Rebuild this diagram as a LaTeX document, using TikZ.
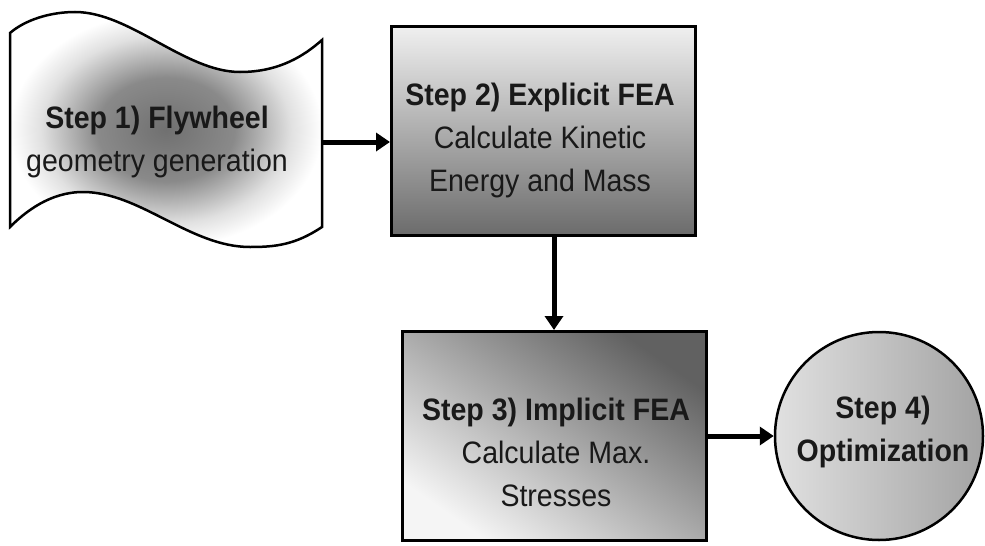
\documentclass[tikz,border=0pt]{standalone}
\usepackage{fontspec}
\setmainfont{Liberation Sans}[FakeStretch=0.92]
\usetikzlibrary{arrows.meta,shapes.geometric,calc}
\pgfdeclareradialshading{tapeshade}{\pgfpoint{0bp}{0bp}}{color(0bp)=(black!56); color(11bp)=(black!46); color(20bp)=(black!12); color(25bp)=(white); color(50bp)=(white)}
\begin{document}
\begin{tikzpicture}[x=1pt,y=-1pt,
  arr/.style={line width=5pt,-{Triangle[length=14pt,width=18pt]}},
  stepbox/.style={draw=black,line width=3pt,inner sep=0pt,minimum width=304pt,minimum height=209pt},
  txt/.style={align=center,inner sep=0pt,text=black!90,font=\fontsize{31}{43}\selectfont}]
\useasboundingbox[fill=white] (0,0) rectangle (985,546);
% Step 1 tape
\shadedraw[shading=tapeshade,draw=black,line width=2.5pt]
  (10,33) .. controls (25,20) and (50,12) .. (75,12)
  .. controls (130,12) and (185,72) .. (240,72)
  .. controls (280,72) and (305,55) .. (322,40)
  -- (322,227)
  .. controls (295,245) and (275,247) .. (250,247)
  .. controls (190,247) and (140,192) .. (83,192)
  .. controls (50,192) and (25,212) .. (10,227) -- cycle;
\node[txt] (s1) at (157,142) {\textbf{Step 1) Flywheel}\\geometry generation};
\coordinate (s1e) at (322,142);
% Step 2
\node[stepbox,top color=white!94!black,bottom color=black!58] (s2) at (543.5,131) {};
\node[txt] (t2) at (540,140) {\textbf{Step 2) Explicit FEA}\\Calculate Kinetic\\Energy and Mass};
% Step 3
\node[stepbox,top color=black!62,bottom color=white!96!black,shading angle=-35] (s3) at (554,436) {};
\node[txt] (t3) at (556,452) {\textbf{Step 3) Implicit FEA}\\Calculate Max.\\Stresses};
% Step 4
\node[circle,draw=black,line width=2.5pt,minimum size=208pt,inner sep=0pt,
  left color=black!12,middle color=white!97!black,right color=black!36] (s4) at (879,436) {};
\node[txt] (t4) at (883,432) {\textbf{Step 4)}\\\textbf{Optimization}};
% connectors
\draw[arr] (s1e) -- (s1e -| s2.west);
\draw[arr] (s2.south -| s3.north) -- (s3.north);
\draw[arr] (s3.east) -- (s4.west);
\end{tikzpicture}
\end{document}
